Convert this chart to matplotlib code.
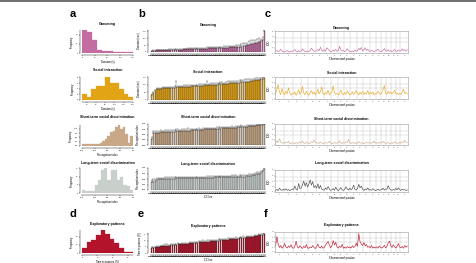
import numpy as np
import matplotlib.pyplot as plt
from matplotlib.lines import Line2D

plt.rcParams['font.family'] = ['Liberation Sans', 'DejaVu Sans']

W, H = 477, 263

titles = ['Grooming', 'Social interaction', 'Short-term social discrimination',
          'Long-term social discrimination', 'Exploratory patterns']
colors = ['#C46CA2', '#E2A315', '#C8A886', '#C9D0CC', '#B3132B']
line_colors = ['#C46CA2', '#E8A820', '#C9AE92', '#4A4A4A', '#C0182F']
hist_xlabels = ['Duration (s)', 'Duration (s)', 'Recognition index', 'Recognition index',
                'Time in patterns (%)']
bar_ylabels = ['Duration (sec)', 'Duration (sec)', 'Recognition index', 'Recognition index',
               'Time in patterns (%)']

# ---- panel a / d : histograms (bin edges and counts) ----
groom_counts = [25, 23, 14, 3, 2, 2, 1, 1, 1, 1]
social_counts = [2, 1, 4, 5, 5, 8, 6, 6, 4, 2, 1]
short_counts = [1, 1, 1, 1, 1, 1, 1, 2, 3, 4, 6, 8, 9, 11, 12, 10, 11, 7, 2, 6]
long_counts = [2, 1, 1, 1, 5, 8, 14, 15, 8, 14, 14, 8, 10, 5, 4, 2]
explo_counts = [6, 14, 16, 22, 28, 24, 18, 12, 6, 1, 1]
hist_ranges = [(0, 160), (30, 140), (-1, 1), (-1, 1), (0, 33)]
hist_ticks = [[0, 40, 80, 120, 160], [40, 60, 80, 100, 120, 140], [-1, -0.5, 0, 0.5, 1],
              [-1, -0.5, 0, 0.5, 1], [0, 10, 20, 30]]

# ---- panel b / e : strain means with SEM ----
strains = ['CC001', 'CC002', 'CC003', 'CC004', 'CC005', 'CC006', 'CC007', 'CC008', 'CC009', 'CC010',
           'CC011', 'CC012', 'CC013', 'CC015', 'CC016', 'CC017', 'CC018', 'CC019', 'CC020', 'CC021',
           'CC022', 'CC023', 'CC024', 'CC025', 'CC026', 'CC027', 'CC028', 'CC029', 'CC030', 'CC031',
           'CC032', 'CC033', 'CC034', 'CC035', 'CC036', 'CC037', 'CC038', 'CC039', 'CC040', 'CC041',
           'CC042', 'CC043', 'CC044', 'CC045', 'CC046', 'CC047', 'CC049', 'CC051', 'CC053', 'CC055',
           'CC056', 'CC057', 'CC058', 'CC059', 'CC060', 'CC061', 'CC062', 'CC063', 'CC065', 'CC068']

groom_mean = [22, 14, 35, 9, 27, 150, 18, 31, 12, 40, 25, 16, 62, 20, 11, 29, 37, 15, 24, 52,
              19, 33, 13, 28, 45, 21, 17, 88, 26, 10, 32, 23, 38, 14, 58, 30, 19, 12, 42, 27,
              16, 72, 24, 21, 34, 8, 48, 18, 29, 66, 22, 15, 36, 25, 80, 20, 31, 17, 55, 26]
groom_sem = [6, 4, 12, 3, 8, 10, 5, 14, 3, 20, 7, 5, 25, 6, 3, 9, 15, 4, 8, 30,
             6, 10, 4, 9, 18, 7, 5, 20, 8, 3, 12, 6, 16, 4, 28, 9, 6, 4, 22, 8,
             5, 30, 7, 6, 12, 2, 20, 5, 10, 25, 7, 4, 14, 8, 18, 6, 11, 5, 35, 8]

social_mean = [98, 75, 120, 88, 105, 30, 112, 82, 94, 130, 78, 101, 86, 118, 92, 140, 72, 108, 96, 84,
               125, 45, 103, 89, 115, 77, 99, 110, 81, 93, 135, 74, 106, 87, 122, 60, 97, 113, 83, 100,
               128, 79, 91, 117, 85, 104, 70, 95, 109, 132, 80, 102, 90, 119, 76, 111, 143, 88, 107, 94]
social_sem = [10, 8, 15, 12, 9, 6, 14, 40, 11, 18, 9, 12, 10, 16, 8, 12, 7, 13, 25, 9,
              15, 5, 12, 10, 14, 8, 11, 13, 9, 10, 12, 7, 14, 11, 16, 8, 10, 15, 9, 12,
              14, 8, 10, 13, 9, 12, 6, 11, 14, 10, 8, 12, 10, 15, 9, 13, 12, 10, 14, 11]

short_mean = [0.72, 0.61, 0.85, 0.66, 0.78, 0.30, 0.90, 0.69, 0.58, 0.81,
              0.75, 0.64, 0.94, 0.70, 0.83, 0.60, 0.77, 0.88, 0.67, 0.73,
              0.56, 0.86, 0.79, 0.63, 0.97, 0.71, 0.68, 0.82, 0.74, 0.62,
              0.91, 0.76, 0.65, 0.87, 0.80, 0.59, 0.70, 0.84, 0.72, 0.66,
              0.93, 0.78, 0.61, 0.89, 0.74, 0.68, 0.83, 0.57, 0.76, 0.95,
              0.71, 0.64, 0.86, 0.79, 0.69, 0.81, 0.62, 0.92, 0.75, 0.99]
short_sem = [0.06, 0.08, 0.05, 0.09, 0.07, 0.10, 0.06, 0.12, 0.08, 0.05,
             0.07, 0.09, 0.04, 0.06, 0.08, 0.11, 0.07, 0.05, 0.09, 0.06,
             0.10, 0.07, 0.05, 0.08, 0.03, 0.06, 0.09, 0.07, 0.05, 0.08,
             0.06, 0.07, 0.10, 0.05, 0.06, 0.09, 0.08, 0.06, 0.07, 0.05,
             0.04, 0.08, 0.09, 0.06, 0.07, 0.10, 0.05, 0.08, 0.06, 0.04,
             0.07, 0.09, 0.05, 0.06, 0.08, 0.07, 0.10, 0.05, 0.06, 0.03]

long_mean = [0.55, 0.52, 0.60, 0.35, 0.57, 0.54, 0.66, 0.50, 0.58, 0.53,
             0.72, 0.56, 0.51, 0.59, 0.40, 0.55, 0.62, 0.53, 0.57, 0.95,
             0.54, 0.49, 0.58, 0.61, 0.52, 0.56, 0.78, 0.55, 0.50, 0.59,
             0.53, 0.64, 0.57, 0.38, 0.54, 0.60, 0.52, 0.56, 0.85, 0.58,
             0.55, 0.51, 0.63, 0.57, 0.53, 0.59, 0.45, 0.56, 0.54, 0.68,
             0.58, 0.52, 0.61, 0.55, 0.57, 0.74, 0.53, 0.60, 0.56, 0.54]
long_sem = [0.06, 0.05, 0.08, 0.12, 0.06, 0.07, 0.09, 0.05, 0.06, 0.07,
            0.10, 0.05, 0.06, 0.08, 0.11, 0.06, 0.07, 0.05, 0.06, 0.03,
            0.07, 0.06, 0.05, 0.08, 0.06, 0.07, 0.09, 0.05, 0.06, 0.07,
            0.05, 0.08, 0.06, 0.13, 0.07, 0.06, 0.05, 0.07, 0.08, 0.06,
            0.05, 0.07, 0.09, 0.06, 0.05, 0.07, 0.10, 0.06, 0.05, 0.08,
            0.06, 0.07, 0.05, 0.06, 0.07, 0.09, 0.06, 0.05, 0.07, 0.06]

explo_mean = [8.2, 5.1, 11.4, 6.7, 9.8, 4.0, 12.6, 7.3, 10.1, 13.9,
              6.0, 8.8, 11.0, 5.6, 14.8, 9.2, 7.0, 12.1, 4.6, 10.6,
              8.5, 13.2, 6.4, 9.5, 11.8, 5.3, 7.8, 14.2, 10.3, 6.9,
              12.9, 8.0, 4.3, 11.2, 9.0, 7.5, 13.5, 5.9, 10.8, 8.7,
              15.6, 6.2, 9.7, 12.3, 7.1, 11.6, 4.9, 10.0, 8.4, 13.0,
              6.6, 9.3, 12.0, 5.8, 7.7, 11.3, 14.4, 8.9, 10.5, 7.4]
explo_sem = [0.8, 0.6, 1.2, 0.7, 0.9, 0.5, 1.0, 0.8, 1.1, 0.9,
             0.6, 1.3, 0.8, 0.7, 1.0, 0.9, 0.6, 1.4, 0.5, 0.8,
             1.0, 0.7, 0.9, 1.2, 0.8, 0.6, 1.1, 0.9, 0.7, 1.0,
             0.8, 1.2, 0.6, 0.9, 1.3, 0.7, 0.8, 1.0, 0.9, 0.6,
             0.7, 1.1, 0.8, 0.9, 1.0, 0.6, 0.8, 1.2, 0.7, 0.9,
             1.0, 0.8, 0.6, 1.1, 0.9, 0.7, 0.8, 1.0, 0.9, 0.7]
bar_ylims = [(0, 160), (0, 150), (0, 1), (0, 1), (0, 16)]
bar_yticks = [[0, 50, 100, 150], [0, 50, 100, 150], [0, 0.25, 0.5, 0.75, 1.0],
              [0, 0.25, 0.5, 0.75, 1.0], [0, 5, 10, 15]]

# ---- panel c / f : LOD along genome ----
chroms = ['1', '2', '3', '4', '5', '6', '7', '8', '9', '10', '11', '12', '13', '14', '15',
          '16', '17', '18', '19', 'X']
markers_per_chrom = [7, 7, 6, 6, 6, 6, 6, 5, 5, 5, 5, 5, 5, 5, 4, 4, 4, 4, 3, 6]
lod_thresholds = [4.0, 5.5]

groom_lod = [0.6, 0.9, 0.5, 0.8, 1.4, 0.7, 0.5, 0.4, 0.6, 0.9, 0.5, 0.3, 0.7, 0.6,
             0.8, 1.2, 0.6, 0.4, 0.9, 0.5, 0.7, 1.5, 0.9, 0.6, 0.4, 0.8,
             0.5, 0.9, 1.8, 1.1, 0.6, 0.7, 0.9, 1.3, 0.8, 2.1, 1.0, 0.6,
             1.2, 0.7, 1.9, 1.4, 0.8, 0.5, 0.6, 1.0, 0.7, 1.3, 0.6,
             0.8, 2.4, 1.2, 0.7, 0.9, 0.5, 0.9, 1.6, 0.8, 0.6, 0.4, 0.7, 0.5, 1.1, 0.6,
             0.9, 1.7, 1.2, 2.0, 0.8, 1.1, 1.9, 0.9, 1.4, 0.7, 0.6, 1.0, 0.7, 0.5, 0.8,
             0.9, 1.4, 0.7, 0.6, 0.5, 1.0, 1.6, 0.8, 0.7, 1.2, 0.6, 0.9,
             0.5, 0.8, 1.3, 0.7, 0.6, 1.1, 0.7, 0.8, 1.5, 0.9, 1.2, 0.7, 1.3]
social_lod = [2.0, 3.5, 5.2, 2.4, 1.6, 3.8, 2.2, 1.5, 2.8, 1.9, 4.1, 2.3, 1.4, 2.0,
              1.8, 2.6, 1.3, 2.2, 3.4, 1.7, 2.5, 4.6, 2.1, 1.6, 2.8, 1.9,
              1.4, 2.3, 3.1, 1.8, 2.6, 1.5, 2.2, 3.6, 1.9, 2.7, 4.4, 2.0,
              1.6, 2.4, 1.8, 3.2, 1.5, 2.1, 2.6, 4.8, 2.3, 1.7, 2.0,
              1.5, 2.2, 3.3, 1.9, 1.6, 2.4, 1.7, 2.9, 2.1, 1.5, 1.8, 2.6, 1.6, 2.3, 3.0,
              2.0, 1.5, 2.4, 1.8, 2.7, 1.6, 2.2, 1.9, 3.1, 1.7, 2.3, 1.8, 2.6, 1.5, 2.0,
              1.9, 2.8, 2.2, 1.6, 2.4, 3.5, 4.9, 2.1, 1.7, 2.9, 2.0, 2.5,
              1.8, 2.4, 3.2, 1.9, 2.2, 1.6, 2.0, 1.7, 2.6, 3.6, 2.0, 2.4, 1.8]
short_lod = [0.8, 1.6, 0.9, 2.3, 1.2, 0.7, 1.0, 0.6, 1.1, 0.8, 1.4, 0.7, 0.5, 0.9,
             0.7, 0.5, 1.0, 0.6, 0.8, 1.2, 0.9, 1.5, 0.7, 0.6, 1.1, 0.8,
             0.5, 0.8, 1.3, 0.9, 2.0, 1.0, 0.7, 0.9, 0.6, 1.2, 0.8, 0.5,
             0.6, 1.0, 0.7, 0.9, 1.4, 0.8, 0.5, 0.7, 1.1, 0.6, 0.8,
             0.9, 1.6, 0.8, 0.6, 1.0, 0.7, 1.2, 0.9, 2.1, 0.8, 0.6, 0.9, 0.7, 1.0, 0.5,
             0.8, 1.3, 0.7, 0.9, 0.6, 0.5, 0.8, 1.1, 0.7, 0.9, 0.6, 1.0, 0.8, 1.5, 0.7,
             0.9, 0.6, 1.1, 0.7, 0.8, 1.4, 0.9, 0.6, 0.7, 1.0, 0.6, 0.8,
             0.5, 0.9, 1.2, 0.7, 0.8, 0.6, 1.0, 0.7, 1.3, 0.9, 1.8, 1.0, 0.8]
long_lod = [0.6, 0.9, 0.5, 1.4, 0.8, 0.6, 1.0, 0.7, 1.2, 0.6, 0.9, 0.5, 0.8, 1.1,
            0.9, 2.2, 1.0, 0.7, 3.1, 1.2, 1.5, 2.6, 4.0, 2.1, 3.4, 1.8,
            2.9, 4.4, 2.5, 3.8, 1.6, 2.3, 1.4, 3.0, 1.2, 2.4, 1.0, 0.8,
            0.7, 1.5, 0.9, 2.0, 1.1, 0.6, 0.8, 1.3, 0.6, 1.8, 0.9,
            0.5, 1.0, 1.6, 0.8, 0.6, 0.9, 1.9, 1.1, 0.7, 1.4, 0.8, 1.2, 2.5, 1.0, 0.7,
            1.3, 2.8, 1.5, 2.2, 1.0, 0.6, 1.1, 0.8, 1.5, 0.7, 0.9, 0.6, 1.2, 0.8, 0.5,
            0.7, 1.0, 0.6, 0.9, 0.8, 1.4, 0.7, 1.1, 1.0, 2.3, 1.2, 0.8,
            0.6, 0.9, 0.7, 1.3, 0.8, 1.5, 0.9, 0.6, 1.0, 0.7, 0.9, 0.5, 0.8]
explo_lod = [2.5, 6.2, 3.0, 1.8, 2.6, 1.5, 2.1, 3.4, 2.0, 1.6, 2.4, 1.8, 2.9, 1.7,
             1.5, 2.2, 4.3, 2.0, 1.6, 2.5, 1.9, 1.4, 2.3, 1.7, 3.0, 1.6,
             1.5, 2.0, 1.7, 2.6, 1.8, 1.4, 2.1, 3.2, 1.9, 1.6, 2.4, 1.5,
             1.8, 2.7, 3.6, 4.2, 2.9, 1.7, 2.4, 4.6, 2.8, 3.9, 2.0,
             1.6, 2.3, 1.8, 3.1, 1.5, 1.9, 1.5, 2.2, 1.7, 2.0, 1.6, 2.5, 1.8, 2.2, 3.5,
             2.3, 7.4, 4.1, 3.2, 2.6, 3.8, 2.4, 3.0, 1.9, 2.2, 1.7, 2.6, 1.5, 2.0, 1.6,
             2.1, 1.5, 2.4, 1.8, 1.6, 2.0, 2.7, 1.7, 2.2, 3.6, 4.4, 2.5,
             1.8, 2.9, 2.1, 1.6, 2.3, 3.4, 2.0, 1.7, 2.2, 1.5, 2.6, 1.9, 2.4]

hist_counts = [groom_counts, social_counts, short_counts, long_counts, explo_counts]
means = [groom_mean, social_mean, short_mean, long_mean, explo_mean]
sems = [groom_sem, social_sem, short_sem, long_sem, explo_sem]
lods = [groom_lod, social_lod, short_lod, long_lod, explo_lod]

# layout in pixels (top, bottom) of each row, per column
rows_a = [(30, 53), (77, 100), (125, 146), (168, 193), (230, 253)]
rows_b = [(30, 52), (77, 100), (124, 145), (168, 190), (233, 253)]
rows_c = [(31, 53), (77, 99), (124, 145), (170, 192), (232, 252)]
title_y = [(24, 25, 28), (70, 72, 73), (117, 117, 119), (163, 164, 163), (224, 226, 225)]
col_a, col_b, col_c = (82, 133), (150, 266), (275, 408)

TICK = 1.5
LAB = 1.9
TIT = 2.5

fig = plt.figure(figsize=(W / 100, H / 100), dpi=100)


def px_axes(x0, x1, y0, y1):
    return fig.add_axes([x0 / W, 1 - y1 / H, (x1 - x0) / W, (y1 - y0) / H])


def r_style(ax):
    for s in ['top', 'right']:
        ax.spines[s].set_visible(False)
    for s in ['left', 'bottom']:
        ax.spines[s].set_linewidth(0.3)
        ax.spines[s].set_position(('outward', 1.5))
    ax.tick_params(length=1, width=0.3, pad=0.6, labelsize=TICK)


for i in range(5):
    # histogram
    ax = px_axes(col_a[0], col_a[1], *rows_a[i])
    lo, hi = hist_ranges[i]
    edges = np.linspace(lo, hi, len(hist_counts[i]) + 1)
    ax.bar(edges[:-1], hist_counts[i], width=np.diff(edges), align='edge',
           color=colors[i], edgecolor=colors[i], linewidth=0.2)
    ax.set_xlim(lo, hi)
    ax.set_ylim(0, max(hist_counts[i]) * 1.02)
    ax.set_xticks(hist_ticks[i])
    ax.set_ylabel('Frequency', fontsize=LAB, labelpad=1)
    ax.set_xlabel(hist_xlabels[i], fontsize=LAB, labelpad=1)
    r_style(ax)
    fig.text(sum(col_a) / 2 / W, 1 - title_y[i][0] / H, titles[i], ha='center', va='center',
             fontsize=TIT, fontweight='bold')

    # strain bar chart
    ax = px_axes(col_b[0], col_b[1], *rows_b[i])
    order = np.argsort(means[i])
    vals = np.array(means[i])[order]
    errs = np.array(sems[i])[order]
    labs = [strains[k] for k in order]
    x = np.arange(len(vals))
    ax.bar(x, vals, width=0.85, color=colors[i], edgecolor='#2a2a2a', linewidth=0.2)
    ax.errorbar(x, vals, yerr=[np.zeros_like(errs), errs], fmt='none', ecolor='#222222',
                elinewidth=0.25, capsize=0.4, capthick=0.25)
    ax.set_xlim(-0.8, len(vals) - 0.2)
    ax.set_ylim(*bar_ylims[i])
    ax.set_yticks(bar_yticks[i])
    ax.set_xticks(x)
    ax.set_xticklabels(labs, rotation=60, ha='right', fontsize=1.1)
    ax.set_ylabel(bar_ylabels[i], fontsize=LAB, labelpad=1)
    if i >= 3:
        ax.set_xlabel('CC line', fontsize=LAB, labelpad=0.5)
    r_style(ax)
    ax.tick_params(axis='x', length=0.6, pad=0.3)
    fig.text(sum(col_b) / 2 / W, 1 - title_y[i][1] / H, titles[i], ha='center', va='center',
             fontsize=TIT, fontweight='bold')

    # LOD trace
    ax = px_axes(col_c[0], col_c[1], *rows_c[i])
    lod = np.array(lods[i])
    xs = np.arange(len(lod))
    bounds = np.cumsum(markers_per_chrom)
    starts = bounds - np.array(markers_per_chrom)
    for b in bounds[:-1]:
        ax.axvline(b - 0.5, color='#bdbdbd', lw=0.3, zorder=0)
    for t in lod_thresholds:
        ax.axhline(t, color='#8a8a8a', lw=0.3, ls=(0, (1.5, 1.5)), zorder=0)
    ax.plot(xs, lod, color=line_colors[i], lw=0.45)
    ax.set_xlim(-0.5, len(lod) - 0.5)
    ax.set_ylim(0, 8)
    ax.set_yticks([0, 2, 4, 6, 8])
    ax.set_xticks((starts + bounds - 1) / 2)
    ax.set_xticklabels(chroms)
    ax.set_ylabel('LOD', fontsize=LAB, labelpad=1)
    ax.set_xlabel('Chromosomal position', fontsize=LAB, labelpad=1)
    for s in ax.spines.values():
        s.set_linewidth(0.4)
        s.set_color('#9a9a9a')
    ax.tick_params(length=0.8, width=0.3, pad=0.6, labelsize=TICK, colors='#555555')
    fig.text(sum(col_c) / 2 / W, 1 - title_y[i][2] / H, titles[i], ha='center', va='center',
             fontsize=TIT, fontweight='bold')

# panel letters
letters = [('a', 70, 14), ('b', 138, 14), ('c', 265, 14), ('d', 70, 214), ('e', 138, 214),
           ('f', 264, 214)]
for s, lx, ly in letters:
    fig.text(lx / W, 1 - ly / H, s, ha='left', va='center', fontsize=8, fontweight='bold')

# thin rule along the top edge
fig.add_artist(Line2D([0, 1], [1 - 0.6 / H, 1 - 0.6 / H], transform=fig.transFigure,
                      color='#555555', lw=1.2))

fig.savefig('out.png', dpi=100)
